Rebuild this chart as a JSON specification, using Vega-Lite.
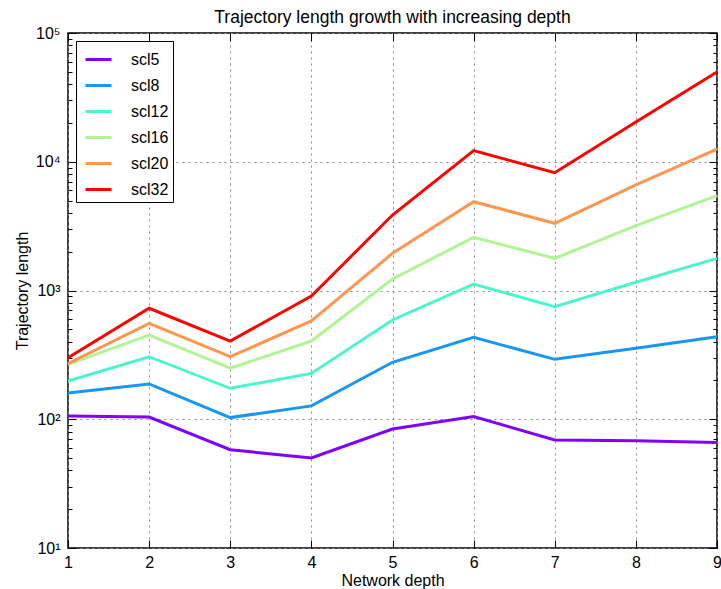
{
  "$schema": "https://vega.github.io/schema/vega-lite/v6.json",
  "width": 649,
  "height": 515,
  "autosize": {"type": "none"},
  "padding": {"left": 68, "top": 33, "right": 4, "bottom": 41},
  "background": "white",
  "config": {
    "font": "Liberation Sans",
    "view": {"stroke": "black", "strokeWidth": 1.5},
    "axis": {
      "domain": false,
      "labelFont": "Liberation Sans",
      "labelFontSize": 16,
      "labelColor": "black",
      "titleFont": "Liberation Sans",
      "titleFontSize": 16,
      "titleFontWeight": "normal",
      "titleColor": "black",
      "tickColor": "black",
      "tickWidth": 1,
      "gridColor": "#888888",
      "gridDash": [2, 4],
      "gridWidth": 1,
      "labelOverlap": false,
      "labelFlush": false
    }
  },
  "title": {
    "text": "Trajectory length growth with increasing depth",
    "fontSize": 17.5,
    "fontWeight": "normal",
    "font": "Liberation Sans",
    "color": "black",
    "offset": -1
  },
  "data": {
    "values": [
      {"depth": 1, "series": "scl5", "length": 106},
      {"depth": 2, "series": "scl5", "length": 104},
      {"depth": 3, "series": "scl5", "length": 58},
      {"depth": 4, "series": "scl5", "length": 50},
      {"depth": 5, "series": "scl5", "length": 84},
      {"depth": 6, "series": "scl5", "length": 105},
      {"depth": 7, "series": "scl5", "length": 69},
      {"depth": 8, "series": "scl5", "length": 68},
      {"depth": 9, "series": "scl5", "length": 66},
      {"depth": 1, "series": "scl8", "length": 160},
      {"depth": 2, "series": "scl8", "length": 188},
      {"depth": 3, "series": "scl8", "length": 103},
      {"depth": 4, "series": "scl8", "length": 127},
      {"depth": 5, "series": "scl8", "length": 277},
      {"depth": 6, "series": "scl8", "length": 433},
      {"depth": 7, "series": "scl8", "length": 292},
      {"depth": 8, "series": "scl8", "length": 356},
      {"depth": 9, "series": "scl8", "length": 437},
      {"depth": 1, "series": "scl12", "length": 198},
      {"depth": 2, "series": "scl12", "length": 306},
      {"depth": 3, "series": "scl12", "length": 174},
      {"depth": 4, "series": "scl12", "length": 227},
      {"depth": 5, "series": "scl12", "length": 590},
      {"depth": 6, "series": "scl12", "length": 1123},
      {"depth": 7, "series": "scl12", "length": 748},
      {"depth": 8, "series": "scl12", "length": 1158},
      {"depth": 9, "series": "scl12", "length": 1778},
      {"depth": 1, "series": "scl16", "length": 267},
      {"depth": 2, "series": "scl16", "length": 451},
      {"depth": 3, "series": "scl16", "length": 249},
      {"depth": 4, "series": "scl16", "length": 405},
      {"depth": 5, "series": "scl16", "length": 1228},
      {"depth": 6, "series": "scl16", "length": 2589},
      {"depth": 7, "series": "scl16", "length": 1778},
      {"depth": 8, "series": "scl16", "length": 3186},
      {"depth": 9, "series": "scl16", "length": 5450},
      {"depth": 1, "series": "scl20", "length": 270},
      {"depth": 2, "series": "scl20", "length": 556},
      {"depth": 3, "series": "scl20", "length": 306},
      {"depth": 4, "series": "scl20", "length": 580},
      {"depth": 5, "series": "scl20", "length": 1945},
      {"depth": 6, "series": "scl20", "length": 4893},
      {"depth": 7, "series": "scl20", "length": 3325},
      {"depth": 8, "series": "scl20", "length": 6600},
      {"depth": 9, "series": "scl20", "length": 12560},
      {"depth": 1, "series": "scl32", "length": 300},
      {"depth": 2, "series": "scl32", "length": 728},
      {"depth": 3, "series": "scl32", "length": 405},
      {"depth": 4, "series": "scl32", "length": 906},
      {"depth": 5, "series": "scl32", "length": 3857},
      {"depth": 6, "series": "scl32", "length": 12190},
      {"depth": 7, "series": "scl32", "length": 8222},
      {"depth": 8, "series": "scl32", "length": 20370},
      {"depth": 9, "series": "scl32", "length": 49800}
    ]
  },
  "layer": [
    {
      "mark": {"type": "line", "strokeWidth": 3},
      "encoding": {
        "x": {
          "field": "depth",
          "type": "quantitative",
          "scale": {"domain": [1, 9], "nice": false, "zero": false},
          "axis": {
            "title": "Network depth",
            "values": [1, 2, 3, 4, 5, 6, 7, 8, 9],
            "format": "d",
            "grid": true,
            "tickSize": -8,
            "labelPadding": 14,
            "titlePadding": 2
          }
        },
        "y": {
          "field": "length",
          "type": "quantitative",
          "scale": {"type": "log", "domain": [10, 100000], "nice": false},
          "axis": {
            "title": "Trajectory length",
            "values": [10, 20, 30, 40, 50, 60, 70, 80, 90, 100, 200, 300, 400, 500, 600, 700, 800, 900, 1000, 2000, 3000, 4000, 5000, 6000, 7000, 8000, 9000, 10000, 20000, 30000, 40000, 50000, 60000, 70000, 80000, 90000, 100000],
            "labelExpr": "(abs(log(datum.value)/LN10 - round(log(datum.value)/LN10)) < 0.001) ? '10' + ['⁰','¹','²','³','⁴','⁵'][round(log(datum.value)/LN10)] : ''",
            "grid": true,
            "gridOpacity": {"condition": {"test": "abs(log(datum.value)/LN10 - round(log(datum.value)/LN10)) < 0.001", "value": 1}, "value": 0},
            "tickSize": {"condition": {"test": "abs(log(datum.value)/LN10 - round(log(datum.value)/LN10)) < 0.001", "value": -8}, "value": -4},
            "labelPadding": 16,
            "titlePadding": 5
          }
        },
        "color": {
          "field": "series",
          "type": "nominal",
          "scale": {
            "domain": ["scl5", "scl8", "scl12", "scl16", "scl20", "scl32"],
            "range": ["#8000ff", "#1996f3", "#4df3ce", "#b2f396", "#ff964f", "#ff0000"]
          },
          "legend": {
            "orient": "none",
            "legendX": 8,
            "legendY": 8,
            "title": null,
            "symbolType": "stroke",
            "symbolStrokeWidth": 3,
            "symbolSize": 676,
            "symbolOffset": 4,
            "labelFontSize": 16,
            "labelFont": "Liberation Sans",
            "labelColor": "black",
            "strokeColor": "black",
            "fillColor": "white",
            "padding": 4,
            "rowPadding": 3,
            "labelOffset": 18
          }
        }
      }
    },
    {
      "mark": {"type": "line", "opacity": 0},
      "encoding": {
        "x": {
          "field": "depth",
          "type": "quantitative",
          "axis": {"orient": "top", "title": null, "labels": false, "grid": false, "values": [1, 2, 3, 4, 5, 6, 7, 8, 9], "tickSize": -8}
        },
        "y": {
          "field": "length",
          "type": "quantitative",
          "axis": {
            "orient": "right",
            "title": null,
            "labels": false,
            "grid": false,
            "values": [10, 20, 30, 40, 50, 60, 70, 80, 90, 100, 200, 300, 400, 500, 600, 700, 800, 900, 1000, 2000, 3000, 4000, 5000, 6000, 7000, 8000, 9000, 10000, 20000, 30000, 40000, 50000, 60000, 70000, 80000, 90000, 100000],
            "tickSize": {"condition": {"test": "abs(log(datum.value)/LN10 - round(log(datum.value)/LN10)) < 0.001", "value": -8}, "value": -4}
          }
        },
        "detail": {"field": "series", "type": "nominal"}
      }
    }
  ],
  "resolve": {"axis": {"x": "independent", "y": "independent"}}
}
